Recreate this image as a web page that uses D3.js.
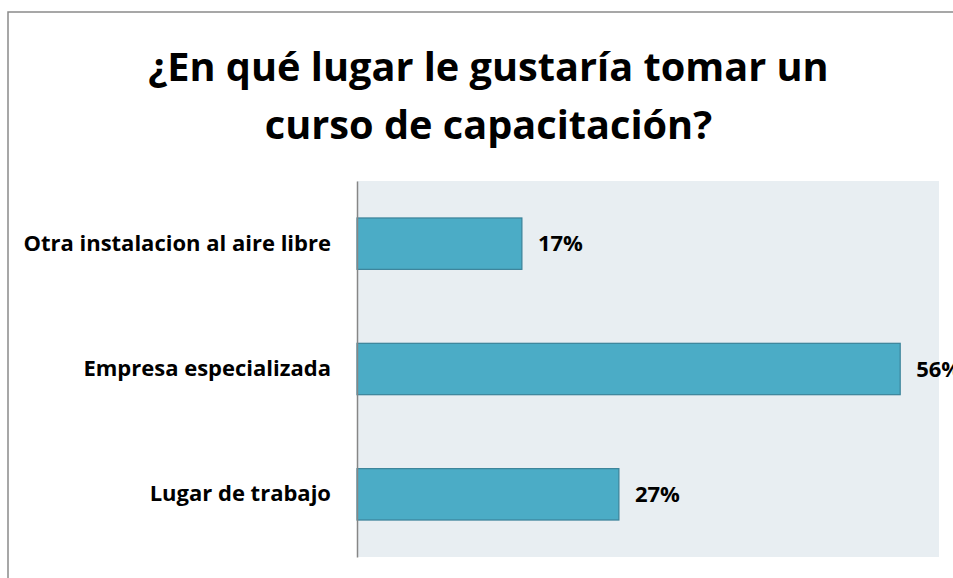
<!DOCTYPE html>
<html><head><meta charset="utf-8">
<script src="https://cdn.jsdelivr.net/npm/d3@7"></script>
<style>body{margin:0;background:#fff;}svg{display:block;}</style>
</head><body>
<svg id="c" width="953" height="578"></svg>
<script>
const categories = ["Otra instalacion al aire libre", "Empresa especializada", "Lugar de trabajo"];
const values = [0.17, 0.56, 0.27];
const valueLabels = ["17%", "56%", "27%"];
const titleLines = ["¿En qué lugar le gustaría tomar un", "curso de capacitación?"];

const svg = d3.select("#c");
const font = "'Open Sans', sans-serif";
// frame
svg.append("rect").attr("x", 8).attr("y", 12).attr("width", 960).attr("height", 600)
  .attr("fill", "#fff").attr("stroke", "#8a8a8a").attr("stroke-width", 1.5);

const m = {left: 357, right: 939, top: 181, bottom: 557};
svg.append("rect").attr("x", m.left).attr("y", m.top)
  .attr("width", m.right - m.left).attr("height", m.bottom - m.top).attr("fill", "#E8EEF2");

const x = d3.scaleLinear().domain([0, 0.6]).range([m.left, m.right]);
const y = d3.scaleBand().domain(categories).range([m.top, m.bottom]).paddingInner(0.59).paddingOuter(0.295);

svg.selectAll(".bar").data(categories).join("rect")
  .attr("x", x(0)).attr("y", d => y(d))
  .attr("width", (d, i) => x(values[i]) - x(0)).attr("height", y.bandwidth())
  .attr("fill", "#4BACC6").attr("stroke", "#3A8299").attr("stroke-width", 1.2);

const yAxis = svg.append("g").attr("transform", `translate(${m.left},0)`)
  .call(d3.axisLeft(y).tickSize(0).tickPadding(26));
yAxis.select(".domain").attr("stroke", "#868686").attr("stroke-width", 1.5);
yAxis.selectAll("text").attr("font-family", font).attr("font-weight", "bold")
  .attr("font-size", 22).attr("fill", "#000");

svg.selectAll(".vl").data(categories).join("text")
  .attr("x", (d, i) => x(values[i]) + 16).attr("y", d => y(d) + y.bandwidth() / 2)
  .attr("dy", "0.35em").attr("font-family", font).attr("font-weight", "bold")
  .attr("font-size", 22).attr("fill", "#000").text((d, i) => valueLabels[i]);

svg.selectAll(".t").data(titleLines).join("text")
  .attr("x", 488.5).attr("y", (d, i) => 81 + i * 58).attr("text-anchor", "middle")
  .attr("font-family", font).attr("font-weight", "bold").attr("font-size", 39.7)
  .attr("fill", "#000").text(d => d);
</script>
</body></html>
